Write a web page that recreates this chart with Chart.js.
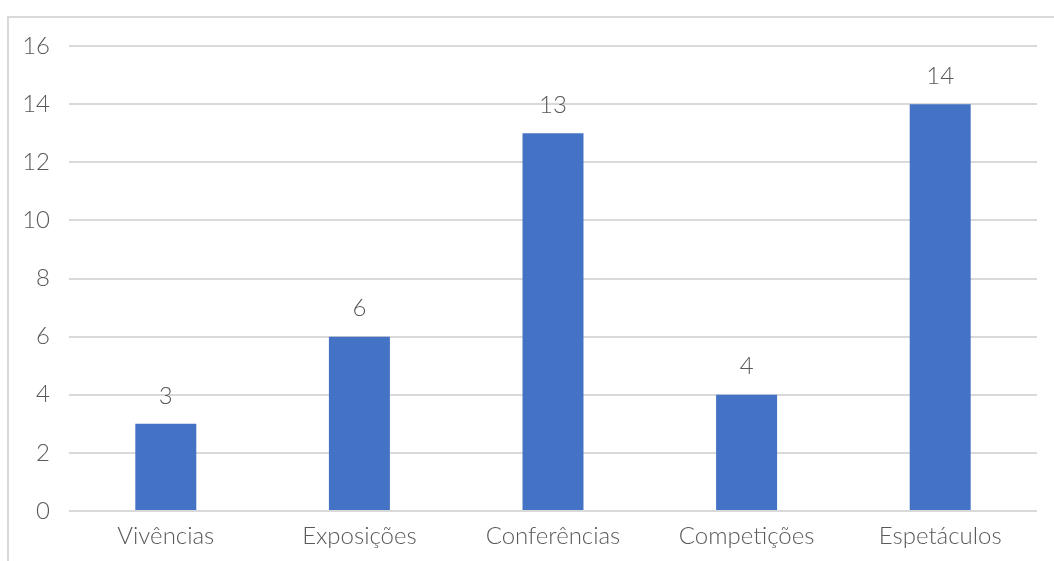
<!DOCTYPE html>
<html>
<head>
<meta charset="utf-8">
<script src="https://cdn.jsdelivr.net/npm/chart.js@4.4.0/dist/chart.umd.min.js"></script>
<style>
html,body{margin:0;padding:0;background:#fff;overflow:hidden;}
#wrap{position:absolute;left:0;top:0;width:1054px;height:561px;}
</style>
</head>
<body>
<div id="wrap"><canvas id="c" width="1054" height="561"></canvas></div>
<script>
const categories = ["Vivências", "Exposições", "Conferências", "Competições", "Espetáculos"];
const values = [3, 6, 13, 4, 14];
const yTicks = [0, 2, 4, 6, 8, 10, 12, 14, 16];

const FONT = "Lato, 'Liberation Sans', Arial, sans-serif";
const WEIGHT = 300;
const SIZE = 24;
const TXT = '#595959';
const GRID = '#d9d9d9';

const frame = {
  id: 'frame',
  beforeDraw(chart) {
    const ctx = chart.ctx;
    ctx.save();
    ctx.strokeStyle = GRID;
    ctx.lineWidth = 2;
    ctx.strokeRect(8, 17, 1100, 600);
    ctx.restore();
  }
};

const labels = {
  id: 'valueLabels',
  afterDatasetsDraw(chart) {
    const ctx = chart.ctx;
    const meta = chart.getDatasetMeta(0);
    ctx.save();
    ctx.fillStyle = TXT;
    ctx.font = WEIGHT + " " + SIZE + "px " + FONT;
    ctx.textAlign = 'center';
    ctx.textBaseline = 'middle';
    meta.data.forEach((bar, i) => {
      ctx.fillText(String(values[i]), bar.x, bar.y - 28);
    });
    ctx.restore();
  }
};

new Chart(document.getElementById('c'), {
  type: 'bar',
  data: {
    labels: categories,
    datasets: [{
      data: values,
      backgroundColor: '#4472C4',
      categoryPercentage: 1,
      barPercentage: 0.315
    }]
  },
  options: {
    responsive: false,
    animation: false,
    layout: { padding: { left: 0, right: 17, top: 46, bottom: 0 } },
    plugins: { legend: { display: false }, tooltip: { enabled: false } },
    scales: {
      x: {
        grid: { display: false, drawTicks: false },
        border: { display: false },
        ticks: { color: TXT, font: { family: FONT, size: SIZE, weight: WEIGHT }, padding: 11, maxRotation: 0 },
        afterFit(s) { s.height = 50; }
      },
      y: {
        min: 0, max: 16,
        afterBuildTicks(s) { s.ticks = yTicks.map(v => ({ value: v })); },
        grid: { color: GRID, lineWidth: 2, drawTicks: false },
        border: { display: false },
        ticks: { color: TXT, font: { family: FONT, size: SIZE, weight: WEIGHT }, padding: 19 },
        afterFit(s) { s.width = 69; }
      }
    }
  },
  plugins: [frame, labels]
});
</script>
</body>
</html>
